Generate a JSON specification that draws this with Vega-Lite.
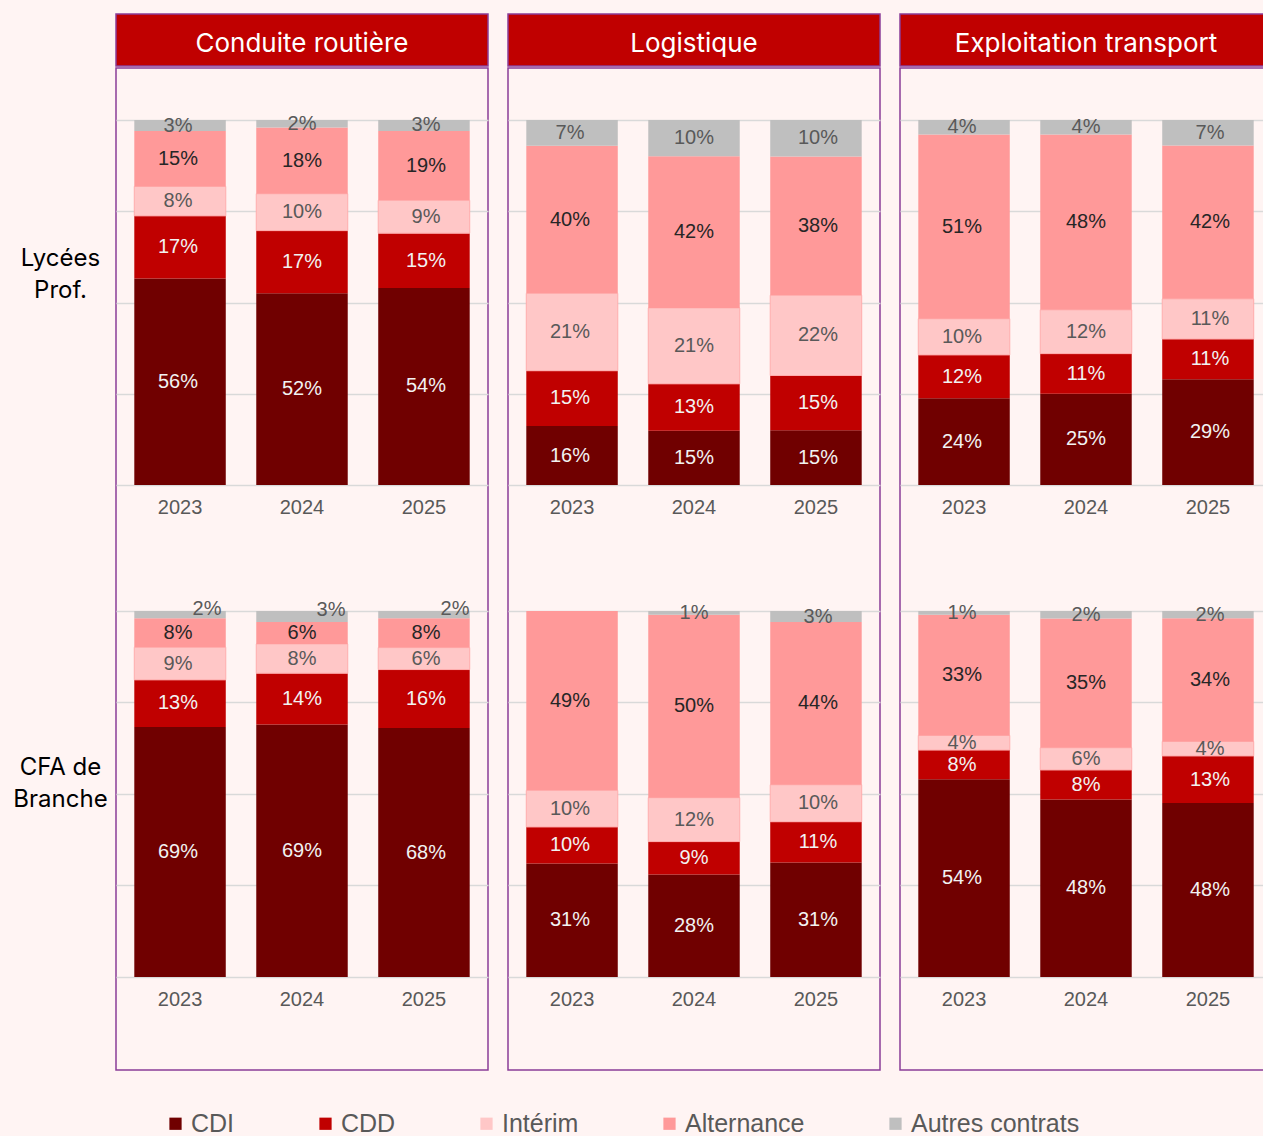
{
  "$schema": "https://vega.github.io/schema/vega-lite/v6.json",
  "background": "#FFF4F3",
  "padding": {"left": 12, "top": 13, "right": 0, "bottom": 0},
  "config": {"view": {"stroke": null}},
  "datasets": {
    "contracts": [
      {"contract": "CDI", "rank": 1},
      {"contract": "CDD", "rank": 2},
      {"contract": "Intérim", "rank": 3},
      {"contract": "Alternance", "rank": 4},
      {"contract": "Autres contrats", "rank": 5}
    ],
    "rows": [
      {"sector": "Conduite routière", "school": "Lycées Prof.", "year": "2023", "contract": "CDI", "value": 0.56},
      {"sector": "Conduite routière", "school": "Lycées Prof.", "year": "2023", "contract": "CDD", "value": 0.17},
      {"sector": "Conduite routière", "school": "Lycées Prof.", "year": "2023", "contract": "Intérim", "value": 0.08},
      {"sector": "Conduite routière", "school": "Lycées Prof.", "year": "2023", "contract": "Alternance", "value": 0.15},
      {"sector": "Conduite routière", "school": "Lycées Prof.", "year": "2023", "contract": "Autres contrats", "value": 0.03},
      {"sector": "Conduite routière", "school": "Lycées Prof.", "year": "2024", "contract": "CDI", "value": 0.52},
      {"sector": "Conduite routière", "school": "Lycées Prof.", "year": "2024", "contract": "CDD", "value": 0.17},
      {"sector": "Conduite routière", "school": "Lycées Prof.", "year": "2024", "contract": "Intérim", "value": 0.10},
      {"sector": "Conduite routière", "school": "Lycées Prof.", "year": "2024", "contract": "Alternance", "value": 0.18},
      {"sector": "Conduite routière", "school": "Lycées Prof.", "year": "2024", "contract": "Autres contrats", "value": 0.02},
      {"sector": "Conduite routière", "school": "Lycées Prof.", "year": "2025", "contract": "CDI", "value": 0.54},
      {"sector": "Conduite routière", "school": "Lycées Prof.", "year": "2025", "contract": "CDD", "value": 0.15},
      {"sector": "Conduite routière", "school": "Lycées Prof.", "year": "2025", "contract": "Intérim", "value": 0.09},
      {"sector": "Conduite routière", "school": "Lycées Prof.", "year": "2025", "contract": "Alternance", "value": 0.19},
      {"sector": "Conduite routière", "school": "Lycées Prof.", "year": "2025", "contract": "Autres contrats", "value": 0.03},
      {"sector": "Conduite routière", "school": "CFA de Branche", "year": "2023", "contract": "CDI", "value": 0.69},
      {"sector": "Conduite routière", "school": "CFA de Branche", "year": "2023", "contract": "CDD", "value": 0.13},
      {"sector": "Conduite routière", "school": "CFA de Branche", "year": "2023", "contract": "Intérim", "value": 0.09},
      {"sector": "Conduite routière", "school": "CFA de Branche", "year": "2023", "contract": "Alternance", "value": 0.08},
      {"sector": "Conduite routière", "school": "CFA de Branche", "year": "2023", "contract": "Autres contrats", "value": 0.02},
      {"sector": "Conduite routière", "school": "CFA de Branche", "year": "2024", "contract": "CDI", "value": 0.69},
      {"sector": "Conduite routière", "school": "CFA de Branche", "year": "2024", "contract": "CDD", "value": 0.14},
      {"sector": "Conduite routière", "school": "CFA de Branche", "year": "2024", "contract": "Intérim", "value": 0.08},
      {"sector": "Conduite routière", "school": "CFA de Branche", "year": "2024", "contract": "Alternance", "value": 0.06},
      {"sector": "Conduite routière", "school": "CFA de Branche", "year": "2024", "contract": "Autres contrats", "value": 0.03},
      {"sector": "Conduite routière", "school": "CFA de Branche", "year": "2025", "contract": "CDI", "value": 0.68},
      {"sector": "Conduite routière", "school": "CFA de Branche", "year": "2025", "contract": "CDD", "value": 0.16},
      {"sector": "Conduite routière", "school": "CFA de Branche", "year": "2025", "contract": "Intérim", "value": 0.06},
      {"sector": "Conduite routière", "school": "CFA de Branche", "year": "2025", "contract": "Alternance", "value": 0.08},
      {"sector": "Conduite routière", "school": "CFA de Branche", "year": "2025", "contract": "Autres contrats", "value": 0.02},
      {"sector": "Logistique", "school": "Lycées Prof.", "year": "2023", "contract": "CDI", "value": 0.16},
      {"sector": "Logistique", "school": "Lycées Prof.", "year": "2023", "contract": "CDD", "value": 0.15},
      {"sector": "Logistique", "school": "Lycées Prof.", "year": "2023", "contract": "Intérim", "value": 0.21},
      {"sector": "Logistique", "school": "Lycées Prof.", "year": "2023", "contract": "Alternance", "value": 0.40},
      {"sector": "Logistique", "school": "Lycées Prof.", "year": "2023", "contract": "Autres contrats", "value": 0.07},
      {"sector": "Logistique", "school": "Lycées Prof.", "year": "2024", "contract": "CDI", "value": 0.15},
      {"sector": "Logistique", "school": "Lycées Prof.", "year": "2024", "contract": "CDD", "value": 0.13},
      {"sector": "Logistique", "school": "Lycées Prof.", "year": "2024", "contract": "Intérim", "value": 0.21},
      {"sector": "Logistique", "school": "Lycées Prof.", "year": "2024", "contract": "Alternance", "value": 0.42},
      {"sector": "Logistique", "school": "Lycées Prof.", "year": "2024", "contract": "Autres contrats", "value": 0.10},
      {"sector": "Logistique", "school": "Lycées Prof.", "year": "2025", "contract": "CDI", "value": 0.15},
      {"sector": "Logistique", "school": "Lycées Prof.", "year": "2025", "contract": "CDD", "value": 0.15},
      {"sector": "Logistique", "school": "Lycées Prof.", "year": "2025", "contract": "Intérim", "value": 0.22},
      {"sector": "Logistique", "school": "Lycées Prof.", "year": "2025", "contract": "Alternance", "value": 0.38},
      {"sector": "Logistique", "school": "Lycées Prof.", "year": "2025", "contract": "Autres contrats", "value": 0.10},
      {"sector": "Logistique", "school": "CFA de Branche", "year": "2023", "contract": "CDI", "value": 0.31},
      {"sector": "Logistique", "school": "CFA de Branche", "year": "2023", "contract": "CDD", "value": 0.10},
      {"sector": "Logistique", "school": "CFA de Branche", "year": "2023", "contract": "Intérim", "value": 0.10},
      {"sector": "Logistique", "school": "CFA de Branche", "year": "2023", "contract": "Alternance", "value": 0.49},
      {"sector": "Logistique", "school": "CFA de Branche", "year": "2024", "contract": "CDI", "value": 0.28},
      {"sector": "Logistique", "school": "CFA de Branche", "year": "2024", "contract": "CDD", "value": 0.09},
      {"sector": "Logistique", "school": "CFA de Branche", "year": "2024", "contract": "Intérim", "value": 0.12},
      {"sector": "Logistique", "school": "CFA de Branche", "year": "2024", "contract": "Alternance", "value": 0.50},
      {"sector": "Logistique", "school": "CFA de Branche", "year": "2024", "contract": "Autres contrats", "value": 0.01},
      {"sector": "Logistique", "school": "CFA de Branche", "year": "2025", "contract": "CDI", "value": 0.31},
      {"sector": "Logistique", "school": "CFA de Branche", "year": "2025", "contract": "CDD", "value": 0.11},
      {"sector": "Logistique", "school": "CFA de Branche", "year": "2025", "contract": "Intérim", "value": 0.10},
      {"sector": "Logistique", "school": "CFA de Branche", "year": "2025", "contract": "Alternance", "value": 0.44},
      {"sector": "Logistique", "school": "CFA de Branche", "year": "2025", "contract": "Autres contrats", "value": 0.03},
      {"sector": "Exploitation transport", "school": "Lycées Prof.", "year": "2023", "contract": "CDI", "value": 0.24},
      {"sector": "Exploitation transport", "school": "Lycées Prof.", "year": "2023", "contract": "CDD", "value": 0.12},
      {"sector": "Exploitation transport", "school": "Lycées Prof.", "year": "2023", "contract": "Intérim", "value": 0.10},
      {"sector": "Exploitation transport", "school": "Lycées Prof.", "year": "2023", "contract": "Alternance", "value": 0.51},
      {"sector": "Exploitation transport", "school": "Lycées Prof.", "year": "2023", "contract": "Autres contrats", "value": 0.04},
      {"sector": "Exploitation transport", "school": "Lycées Prof.", "year": "2024", "contract": "CDI", "value": 0.25},
      {"sector": "Exploitation transport", "school": "Lycées Prof.", "year": "2024", "contract": "CDD", "value": 0.11},
      {"sector": "Exploitation transport", "school": "Lycées Prof.", "year": "2024", "contract": "Intérim", "value": 0.12},
      {"sector": "Exploitation transport", "school": "Lycées Prof.", "year": "2024", "contract": "Alternance", "value": 0.48},
      {"sector": "Exploitation transport", "school": "Lycées Prof.", "year": "2024", "contract": "Autres contrats", "value": 0.04},
      {"sector": "Exploitation transport", "school": "Lycées Prof.", "year": "2025", "contract": "CDI", "value": 0.29},
      {"sector": "Exploitation transport", "school": "Lycées Prof.", "year": "2025", "contract": "CDD", "value": 0.11},
      {"sector": "Exploitation transport", "school": "Lycées Prof.", "year": "2025", "contract": "Intérim", "value": 0.11},
      {"sector": "Exploitation transport", "school": "Lycées Prof.", "year": "2025", "contract": "Alternance", "value": 0.42},
      {"sector": "Exploitation transport", "school": "Lycées Prof.", "year": "2025", "contract": "Autres contrats", "value": 0.07},
      {"sector": "Exploitation transport", "school": "CFA de Branche", "year": "2023", "contract": "CDI", "value": 0.54},
      {"sector": "Exploitation transport", "school": "CFA de Branche", "year": "2023", "contract": "CDD", "value": 0.08},
      {"sector": "Exploitation transport", "school": "CFA de Branche", "year": "2023", "contract": "Intérim", "value": 0.04},
      {"sector": "Exploitation transport", "school": "CFA de Branche", "year": "2023", "contract": "Alternance", "value": 0.33},
      {"sector": "Exploitation transport", "school": "CFA de Branche", "year": "2023", "contract": "Autres contrats", "value": 0.01},
      {"sector": "Exploitation transport", "school": "CFA de Branche", "year": "2024", "contract": "CDI", "value": 0.48},
      {"sector": "Exploitation transport", "school": "CFA de Branche", "year": "2024", "contract": "CDD", "value": 0.08},
      {"sector": "Exploitation transport", "school": "CFA de Branche", "year": "2024", "contract": "Intérim", "value": 0.06},
      {"sector": "Exploitation transport", "school": "CFA de Branche", "year": "2024", "contract": "Alternance", "value": 0.35},
      {"sector": "Exploitation transport", "school": "CFA de Branche", "year": "2024", "contract": "Autres contrats", "value": 0.02},
      {"sector": "Exploitation transport", "school": "CFA de Branche", "year": "2025", "contract": "CDI", "value": 0.48},
      {"sector": "Exploitation transport", "school": "CFA de Branche", "year": "2025", "contract": "CDD", "value": 0.13},
      {"sector": "Exploitation transport", "school": "CFA de Branche", "year": "2025", "contract": "Intérim", "value": 0.04},
      {"sector": "Exploitation transport", "school": "CFA de Branche", "year": "2025", "contract": "Alternance", "value": 0.34},
      {"sector": "Exploitation transport", "school": "CFA de Branche", "year": "2025", "contract": "Autres contrats", "value": 0.02}
    ]
  },
  "data": {"name": "rows"},
  "spacing": 18,
  "hconcat": [
    {
      "spacing": 0,
      "vconcat": [
        {
          "width": 372, "height": 52,
          "view": {"fill": "#C00000", "stroke": "#8B3D98", "strokeWidth": 1.5},
          "data": {"values": [{"header": "Conduite routière"}]},
          "mark": {"type": "text", "font": "Inter", "fontSize": 26, "color": "#FFFFFF", "baseline": "middle", "dy": 4},
          "encoding": {"text": {"field": "header", "type": "nominal"}}
        },
        {
          "width": 372, "height": 1002,
          "view": {"stroke": "#8B3D98", "strokeWidth": 1.5},
          "transform": [
            {"filter": "datum.sector === 'Conduite routière'"},
            {"lookup": "contract", "from": {"data": {"name": "contracts"}, "key": "contract", "fields": ["rank"]}}
          ],
          "layer": [
            {
              "transform": [{"filter": "datum.school === 'Lycées Prof.'"}],
              "mark": {"type": "bar", "strokeWidth": 1},
              "encoding": {
                "x": {"field": "year", "type": "ordinal", "scale": {"paddingInner": 0.25, "paddingOuter": 0.15}, "axis": {"orient": "bottom", "offset": -585, "title": null, "labelAngle": 0, "ticks": false, "domain": false, "grid": false, "labelPadding": 12, "labelFont": "Liberation Sans", "labelFontSize": 20, "labelColor": "#595959"}},
                "y": {"field": "value", "type": "quantitative", "stack": "normalize", "scale": {"domain": [-1.6027, 1.1425], "nice": false, "zero": false}, "axis": {"orient": "left", "values": [0, 0.25, 0.5, 0.75, 1], "grid": true, "gridColor": "#D9D9D9", "gridWidth": 1.5, "labels": false, "ticks": false, "domain": false, "title": ["Lycées", "Prof."], "titleAngle": 0, "titleAlign": "center", "titleBaseline": "middle", "titleX": -56, "titleY": 190, "titleFont": "Inter", "titleFontSize": 24, "titleFontWeight": "normal", "titleColor": "#000000", "titleLineHeight": 32}},
                "color": {"field": "contract", "type": "nominal", "scale": {"domain": ["CDI", "CDD", "Intérim", "Alternance", "Autres contrats"], "range": ["#700000", "#C00000", "#FFC7C7", "#FF9999", "#BFBFBF"]}, "legend": {"title": null, "orient": "none", "direction": "horizontal", "legendX": 47, "legendY": 1097, "symbolType": "square", "symbolSize": 150, "symbolStrokeWidth": 0, "labelFont": "Liberation Sans", "labelFontSize": 25, "labelColor": "#595959", "labelLimit": 400, "columnPadding": 78, "labelOffset": 3}},
                "stroke": {"condition": {"test": "datum.contract === 'Intérim'", "value": "#FFADAD"}, "value": "transparent"},
                "order": {"field": "rank", "type": "quantitative"}
              }
            },
            {
              "transform": [{"filter": "datum.school === 'Lycées Prof.'"}],
              "mark": {"type": "text", "font": "Liberation Sans", "fontSize": 20, "baseline": "middle"},
              "encoding": {
                "x": {"field": "year", "type": "ordinal", "scale": {"paddingInner": 0.25, "paddingOuter": 0.15}, "axis": null},
                "y": {"field": "value", "type": "quantitative", "stack": "normalize", "bandPosition": 0.5, "scale": {"domain": [-1.6027, 1.1425], "nice": false, "zero": false}, "axis": null},
                "detail": {"field": "contract", "type": "nominal"},
                "order": {"field": "rank", "type": "quantitative"},
                "text": {"field": "value", "type": "quantitative", "format": ".0%"},
                "color": {"condition": [{"test": "datum.contract === 'CDI' || datum.contract === 'CDD'", "value": "#F2F2F2"}, {"test": "datum.contract === 'Alternance'", "value": "#262626"}], "value": "#595959"}
              }
            },
            {
              "transform": [{"filter": "datum.school === 'CFA de Branche'"}],
              "mark": {"type": "bar", "strokeWidth": 1},
              "encoding": {
                "x": {"field": "year", "type": "ordinal", "scale": {"paddingInner": 0.25, "paddingOuter": 0.15}, "axis": {"orient": "bottom", "offset": -93, "title": null, "labelAngle": 0, "ticks": false, "domain": false, "grid": false, "labelPadding": 12, "labelFont": "Liberation Sans", "labelFontSize": 20, "labelColor": "#595959"}},
                "y": {"field": "value", "type": "quantitative", "stack": "normalize", "scale": {"domain": [-0.2541, 2.4836], "nice": false, "zero": false}, "axis": {"orient": "left", "values": [0, 0.25, 0.5, 0.75, 1], "grid": true, "gridColor": "#D9D9D9", "gridWidth": 1.5, "labels": false, "ticks": false, "domain": false, "title": ["CFA de", "Branche"], "titleAngle": 0, "titleAlign": "center", "titleBaseline": "middle", "titleX": -56, "titleY": 699, "titleFont": "Inter", "titleFontSize": 24, "titleFontWeight": "normal", "titleColor": "#000000", "titleLineHeight": 32}},
                "color": {"field": "contract", "type": "nominal", "scale": {"domain": ["CDI", "CDD", "Intérim", "Alternance", "Autres contrats"], "range": ["#700000", "#C00000", "#FFC7C7", "#FF9999", "#BFBFBF"]}, "legend": {"title": null, "orient": "none", "direction": "horizontal", "legendX": 47, "legendY": 1097, "symbolType": "square", "symbolSize": 150, "symbolStrokeWidth": 0, "labelFont": "Liberation Sans", "labelFontSize": 25, "labelColor": "#595959", "labelLimit": 400, "columnPadding": 78, "labelOffset": 3}},
                "stroke": {"condition": {"test": "datum.contract === 'Intérim'", "value": "#FFADAD"}, "value": "transparent"},
                "order": {"field": "rank", "type": "quantitative"}
              }
            },
            {
              "transform": [{"filter": "datum.school === 'CFA de Branche'"}],
              "mark": {"type": "text", "font": "Liberation Sans", "fontSize": 20, "baseline": "middle"},
              "encoding": {
                "x": {"field": "year", "type": "ordinal", "scale": {"paddingInner": 0.25, "paddingOuter": 0.15}, "axis": null},
                "y": {"field": "value", "type": "quantitative", "stack": "normalize", "bandPosition": 0.5, "scale": {"domain": [-0.2541, 2.4836], "nice": false, "zero": false}, "axis": null},
                "detail": {"field": "contract", "type": "nominal"},
                "order": {"field": "rank", "type": "quantitative"},
                "text": {"condition": {"test": "datum.contract === 'Autres contrats'", "value": ""}, "field": "value", "type": "quantitative", "format": ".0%"},
                "color": {"condition": [{"test": "datum.contract === 'CDI' || datum.contract === 'CDD'", "value": "#F2F2F2"}, {"test": "datum.contract === 'Alternance'", "value": "#262626"}], "value": "#595959"}
              }
            },
            {
              "transform": [{"filter": "datum.school === 'CFA de Branche'"}],
              "mark": {"type": "text", "font": "Liberation Sans", "fontSize": 20, "baseline": "middle", "dx": 29, "dy": -6},
              "encoding": {
                "x": {"field": "year", "type": "ordinal", "scale": {"paddingInner": 0.25, "paddingOuter": 0.15}, "axis": null},
                "y": {"field": "value", "type": "quantitative", "stack": "normalize", "bandPosition": 0.5, "scale": {"domain": [-0.2541, 2.4836], "nice": false, "zero": false}, "axis": null},
                "detail": {"field": "contract", "type": "nominal"},
                "order": {"field": "rank", "type": "quantitative"},
                "text": {"condition": {"test": "datum.contract !== 'Autres contrats'", "value": ""}, "field": "value", "type": "quantitative", "format": ".0%"},
                "color": {"value": "#595959"}
              }
            }
          ],
          "resolve": {"scale": {"x": "independent", "y": "independent"}, "axis": {"x": "independent", "y": "independent"}}
        }
      ]
    },
    {
      "spacing": 0,
      "vconcat": [
        {
          "width": 372, "height": 52,
          "view": {"fill": "#C00000", "stroke": "#8B3D98", "strokeWidth": 1.5},
          "data": {"values": [{"header": "Logistique"}]},
          "mark": {"type": "text", "font": "Inter", "fontSize": 26, "color": "#FFFFFF", "baseline": "middle", "dy": 4},
          "encoding": {"text": {"field": "header", "type": "nominal"}}
        },
        {
          "width": 372, "height": 1002,
          "view": {"stroke": "#8B3D98", "strokeWidth": 1.5},
          "transform": [
            {"filter": "datum.sector === 'Logistique'"},
            {"lookup": "contract", "from": {"data": {"name": "contracts"}, "key": "contract", "fields": ["rank"]}}
          ],
          "layer": [
            {
              "transform": [{"filter": "datum.school === 'Lycées Prof.'"}],
              "mark": {"type": "bar", "strokeWidth": 1},
              "encoding": {
                "x": {"field": "year", "type": "ordinal", "scale": {"paddingInner": 0.25, "paddingOuter": 0.15}, "axis": {"orient": "bottom", "offset": -585, "title": null, "labelAngle": 0, "ticks": false, "domain": false, "grid": false, "labelPadding": 12, "labelFont": "Liberation Sans", "labelFontSize": 20, "labelColor": "#595959"}},
                "y": {"field": "value", "type": "quantitative", "stack": "normalize", "scale": {"domain": [-1.6027, 1.1425], "nice": false, "zero": false}, "axis": {"orient": "left", "values": [0, 0.25, 0.5, 0.75, 1], "grid": true, "gridColor": "#D9D9D9", "gridWidth": 1.5, "labels": false, "ticks": false, "domain": false, "title": null}},
                "color": {"field": "contract", "type": "nominal", "scale": {"domain": ["CDI", "CDD", "Intérim", "Alternance", "Autres contrats"], "range": ["#700000", "#C00000", "#FFC7C7", "#FF9999", "#BFBFBF"]}, "legend": {"title": null, "orient": "none", "direction": "horizontal", "legendX": 47, "legendY": 1097, "symbolType": "square", "symbolSize": 150, "symbolStrokeWidth": 0, "labelFont": "Liberation Sans", "labelFontSize": 25, "labelColor": "#595959", "labelLimit": 400, "columnPadding": 78, "labelOffset": 3}},
                "stroke": {"condition": {"test": "datum.contract === 'Intérim'", "value": "#FFADAD"}, "value": "transparent"},
                "order": {"field": "rank", "type": "quantitative"}
              }
            },
            {
              "transform": [{"filter": "datum.school === 'Lycées Prof.'"}],
              "mark": {"type": "text", "font": "Liberation Sans", "fontSize": 20, "baseline": "middle"},
              "encoding": {
                "x": {"field": "year", "type": "ordinal", "scale": {"paddingInner": 0.25, "paddingOuter": 0.15}, "axis": null},
                "y": {"field": "value", "type": "quantitative", "stack": "normalize", "bandPosition": 0.5, "scale": {"domain": [-1.6027, 1.1425], "nice": false, "zero": false}, "axis": null},
                "detail": {"field": "contract", "type": "nominal"},
                "order": {"field": "rank", "type": "quantitative"},
                "text": {"field": "value", "type": "quantitative", "format": ".0%"},
                "color": {"condition": [{"test": "datum.contract === 'CDI' || datum.contract === 'CDD'", "value": "#F2F2F2"}, {"test": "datum.contract === 'Alternance'", "value": "#262626"}], "value": "#595959"}
              }
            },
            {
              "transform": [{"filter": "datum.school === 'CFA de Branche'"}],
              "mark": {"type": "bar", "strokeWidth": 1},
              "encoding": {
                "x": {"field": "year", "type": "ordinal", "scale": {"paddingInner": 0.25, "paddingOuter": 0.15}, "axis": {"orient": "bottom", "offset": -93, "title": null, "labelAngle": 0, "ticks": false, "domain": false, "grid": false, "labelPadding": 12, "labelFont": "Liberation Sans", "labelFontSize": 20, "labelColor": "#595959"}},
                "y": {"field": "value", "type": "quantitative", "stack": "normalize", "scale": {"domain": [-0.2541, 2.4836], "nice": false, "zero": false}, "axis": {"orient": "left", "values": [0, 0.25, 0.5, 0.75, 1], "grid": true, "gridColor": "#D9D9D9", "gridWidth": 1.5, "labels": false, "ticks": false, "domain": false, "title": null}},
                "color": {"field": "contract", "type": "nominal", "scale": {"domain": ["CDI", "CDD", "Intérim", "Alternance", "Autres contrats"], "range": ["#700000", "#C00000", "#FFC7C7", "#FF9999", "#BFBFBF"]}, "legend": {"title": null, "orient": "none", "direction": "horizontal", "legendX": 47, "legendY": 1097, "symbolType": "square", "symbolSize": 150, "symbolStrokeWidth": 0, "labelFont": "Liberation Sans", "labelFontSize": 25, "labelColor": "#595959", "labelLimit": 400, "columnPadding": 78, "labelOffset": 3}},
                "stroke": {"condition": {"test": "datum.contract === 'Intérim'", "value": "#FFADAD"}, "value": "transparent"},
                "order": {"field": "rank", "type": "quantitative"}
              }
            },
            {
              "transform": [{"filter": "datum.school === 'CFA de Branche'"}],
              "mark": {"type": "text", "font": "Liberation Sans", "fontSize": 20, "baseline": "middle"},
              "encoding": {
                "x": {"field": "year", "type": "ordinal", "scale": {"paddingInner": 0.25, "paddingOuter": 0.15}, "axis": null},
                "y": {"field": "value", "type": "quantitative", "stack": "normalize", "bandPosition": 0.5, "scale": {"domain": [-0.2541, 2.4836], "nice": false, "zero": false}, "axis": null},
                "detail": {"field": "contract", "type": "nominal"},
                "order": {"field": "rank", "type": "quantitative"},
                "text": {"field": "value", "type": "quantitative", "format": ".0%"},
                "color": {"condition": [{"test": "datum.contract === 'CDI' || datum.contract === 'CDD'", "value": "#F2F2F2"}, {"test": "datum.contract === 'Alternance'", "value": "#262626"}], "value": "#595959"}
              }
            }
          ],
          "resolve": {"scale": {"x": "independent", "y": "independent"}, "axis": {"x": "independent", "y": "independent"}}
        }
      ]
    },
    {
      "spacing": 0,
      "vconcat": [
        {
          "width": 372, "height": 52,
          "view": {"fill": "#C00000", "stroke": "#8B3D98", "strokeWidth": 1.5},
          "data": {"values": [{"header": "Exploitation transport"}]},
          "mark": {"type": "text", "font": "Inter", "fontSize": 26, "color": "#FFFFFF", "baseline": "middle", "dy": 4},
          "encoding": {"text": {"field": "header", "type": "nominal"}}
        },
        {
          "width": 372, "height": 1002,
          "view": {"stroke": "#8B3D98", "strokeWidth": 1.5},
          "transform": [
            {"filter": "datum.sector === 'Exploitation transport'"},
            {"lookup": "contract", "from": {"data": {"name": "contracts"}, "key": "contract", "fields": ["rank"]}}
          ],
          "layer": [
            {
              "transform": [{"filter": "datum.school === 'Lycées Prof.'"}],
              "mark": {"type": "bar", "strokeWidth": 1},
              "encoding": {
                "x": {"field": "year", "type": "ordinal", "scale": {"paddingInner": 0.25, "paddingOuter": 0.15}, "axis": {"orient": "bottom", "offset": -585, "title": null, "labelAngle": 0, "ticks": false, "domain": false, "grid": false, "labelPadding": 12, "labelFont": "Liberation Sans", "labelFontSize": 20, "labelColor": "#595959"}},
                "y": {"field": "value", "type": "quantitative", "stack": "normalize", "scale": {"domain": [-1.6027, 1.1425], "nice": false, "zero": false}, "axis": {"orient": "left", "values": [0, 0.25, 0.5, 0.75, 1], "grid": true, "gridColor": "#D9D9D9", "gridWidth": 1.5, "labels": false, "ticks": false, "domain": false, "title": null}},
                "color": {"field": "contract", "type": "nominal", "scale": {"domain": ["CDI", "CDD", "Intérim", "Alternance", "Autres contrats"], "range": ["#700000", "#C00000", "#FFC7C7", "#FF9999", "#BFBFBF"]}, "legend": {"title": null, "orient": "none", "direction": "horizontal", "legendX": 47, "legendY": 1097, "symbolType": "square", "symbolSize": 150, "symbolStrokeWidth": 0, "labelFont": "Liberation Sans", "labelFontSize": 25, "labelColor": "#595959", "labelLimit": 400, "columnPadding": 78, "labelOffset": 3}},
                "stroke": {"condition": {"test": "datum.contract === 'Intérim'", "value": "#FFADAD"}, "value": "transparent"},
                "order": {"field": "rank", "type": "quantitative"}
              }
            },
            {
              "transform": [{"filter": "datum.school === 'Lycées Prof.'"}],
              "mark": {"type": "text", "font": "Liberation Sans", "fontSize": 20, "baseline": "middle"},
              "encoding": {
                "x": {"field": "year", "type": "ordinal", "scale": {"paddingInner": 0.25, "paddingOuter": 0.15}, "axis": null},
                "y": {"field": "value", "type": "quantitative", "stack": "normalize", "bandPosition": 0.5, "scale": {"domain": [-1.6027, 1.1425], "nice": false, "zero": false}, "axis": null},
                "detail": {"field": "contract", "type": "nominal"},
                "order": {"field": "rank", "type": "quantitative"},
                "text": {"field": "value", "type": "quantitative", "format": ".0%"},
                "color": {"condition": [{"test": "datum.contract === 'CDI' || datum.contract === 'CDD'", "value": "#F2F2F2"}, {"test": "datum.contract === 'Alternance'", "value": "#262626"}], "value": "#595959"}
              }
            },
            {
              "transform": [{"filter": "datum.school === 'CFA de Branche'"}],
              "mark": {"type": "bar", "strokeWidth": 1},
              "encoding": {
                "x": {"field": "year", "type": "ordinal", "scale": {"paddingInner": 0.25, "paddingOuter": 0.15}, "axis": {"orient": "bottom", "offset": -93, "title": null, "labelAngle": 0, "ticks": false, "domain": false, "grid": false, "labelPadding": 12, "labelFont": "Liberation Sans", "labelFontSize": 20, "labelColor": "#595959"}},
                "y": {"field": "value", "type": "quantitative", "stack": "normalize", "scale": {"domain": [-0.2541, 2.4836], "nice": false, "zero": false}, "axis": {"orient": "left", "values": [0, 0.25, 0.5, 0.75, 1], "grid": true, "gridColor": "#D9D9D9", "gridWidth": 1.5, "labels": false, "ticks": false, "domain": false, "title": null}},
                "color": {"field": "contract", "type": "nominal", "scale": {"domain": ["CDI", "CDD", "Intérim", "Alternance", "Autres contrats"], "range": ["#700000", "#C00000", "#FFC7C7", "#FF9999", "#BFBFBF"]}, "legend": {"title": null, "orient": "none", "direction": "horizontal", "legendX": 47, "legendY": 1097, "symbolType": "square", "symbolSize": 150, "symbolStrokeWidth": 0, "labelFont": "Liberation Sans", "labelFontSize": 25, "labelColor": "#595959", "labelLimit": 400, "columnPadding": 78, "labelOffset": 3}},
                "stroke": {"condition": {"test": "datum.contract === 'Intérim'", "value": "#FFADAD"}, "value": "transparent"},
                "order": {"field": "rank", "type": "quantitative"}
              }
            },
            {
              "transform": [{"filter": "datum.school === 'CFA de Branche'"}],
              "mark": {"type": "text", "font": "Liberation Sans", "fontSize": 20, "baseline": "middle"},
              "encoding": {
                "x": {"field": "year", "type": "ordinal", "scale": {"paddingInner": 0.25, "paddingOuter": 0.15}, "axis": null},
                "y": {"field": "value", "type": "quantitative", "stack": "normalize", "bandPosition": 0.5, "scale": {"domain": [-0.2541, 2.4836], "nice": false, "zero": false}, "axis": null},
                "detail": {"field": "contract", "type": "nominal"},
                "order": {"field": "rank", "type": "quantitative"},
                "text": {"field": "value", "type": "quantitative", "format": ".0%"},
                "color": {"condition": [{"test": "datum.contract === 'CDI' || datum.contract === 'CDD'", "value": "#F2F2F2"}, {"test": "datum.contract === 'Alternance'", "value": "#262626"}], "value": "#595959"}
              }
            }
          ],
          "resolve": {"scale": {"x": "independent", "y": "independent"}, "axis": {"x": "independent", "y": "independent"}}
        }
      ]
    }
  ]
}
